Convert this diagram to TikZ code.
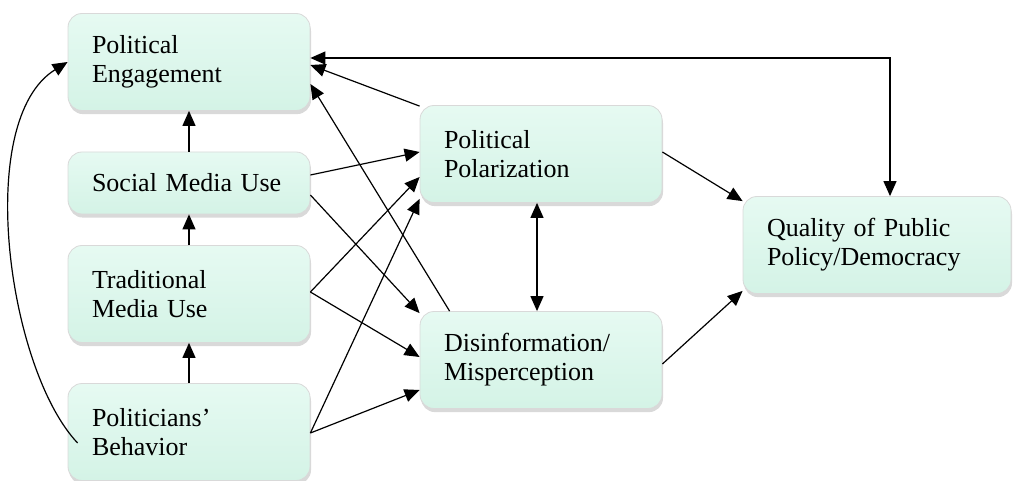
\documentclass[tikz,border=0pt]{standalone}
\usepackage{fontspec}
\setmainfont{Liberation Serif}
\usetikzlibrary{arrows.meta, shadows}
\definecolor{mintfill}{HTML}{D4F3E6}
\definecolor{mintlight}{HTML}{E6FAF2}
\begin{document}
\begin{tikzpicture}[x=0.5pt, y=-0.5pt, line width=0.6pt, >={Triangle[length=7.5pt,width=6.5pt]},
    box/.style={draw=black!15, line width=0.4pt, rounded corners=7pt, top color=mintlight, bottom color=mintfill,
        drop shadow={shadow xshift=0.5pt, shadow yshift=-1.8pt, opacity=0.3},
        minimum width=121pt, minimum height=48.5pt, text width=97pt, inner xsep=12pt, align=left,
        font=\fontsize{13}{14.5}\selectfont}]
    \useasboundingbox (0,0) rectangle (1013,481);

    \node[box] (pe) at (189,62) {Political\\Engagement};
    \node[box, minimum height=31pt] (sm) at (189,183) {Social Media Use};
    \node[box] (tm) at (189,294) {Traditional\\Media Use};
    \node[box] (pb) at (189,432) {Politicians'\\Behavior};
    \node[box] (pp) at (541,154) {Political\\Polarization};
    \node[box] (dm) at (541,360) {Disinformation/\\Misperception};
    \node[box, minimum width=134pt, text width=110pt] (qp) at (877,245) {Quality of Public\\Policy/Democracy};

    \draw[<->] ([yshift=2pt]pe.east) -| ([xshift=6.5pt]qp.north);
    \draw[->] ([yshift=-0.5pt]pp.north west) -- ([yshift=-1.5pt]pe.east);
    \draw[->] ([xshift=15pt]dm.north west) -- ([yshift=-11pt]pe.east);
    \draw[->] (sm.north) -- (pe.south);
    \draw[->] (tm.north) -- (sm.south);
    \draw[->] (pb.north) -- (tm.south);
    \draw[->] ([xshift=5pt,yshift=-5.5pt]pb.west) .. controls +(-70,-74) and +(-94,58) .. ([yshift=-0pt]pe.west);

    \draw[->] ([yshift=4pt]sm.east) -- ([yshift=1pt]pp.west);
    \draw[->] ([yshift=-6pt]sm.east) -- ([yshift=-1pt]dm.north west);
    \draw[->] ([yshift=1pt]tm.east) -- ([yshift=-11.5pt]pp.west);
    \draw[->] ([yshift=1pt]tm.east) -- ([yshift=1.5pt]dm.west);
    \draw[->] ([yshift=-0.5pt]pb.east) -- ([yshift=2pt]pp.south west);
    \draw[->] ([yshift=-0.5pt]pb.east) -- ([yshift=-15pt]dm.west);

    \draw[<->] ([xshift=-2pt]pp.south) -- ([xshift=-2pt]dm.north);
    \draw[->] ([yshift=1pt]pp.east) -- ([yshift=-2.5pt]qp.north west);
    \draw[->] ([yshift=-2pt]dm.east) -- ([yshift=1.5pt]qp.south west);
\end{tikzpicture}
\end{document}
